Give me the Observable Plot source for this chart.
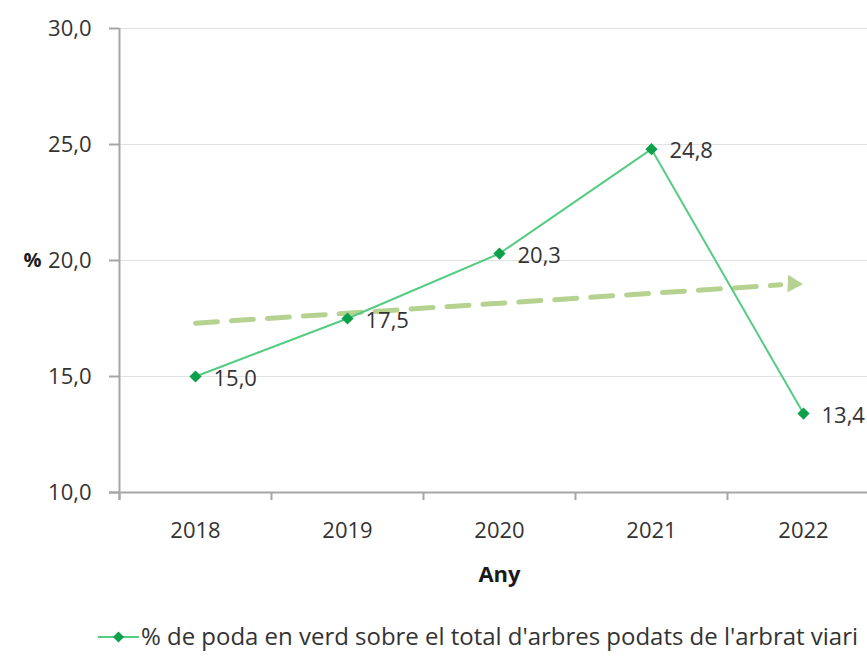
<!DOCTYPE html>
<html><head><meta charset="utf-8">
<script src="https://cdn.jsdelivr.net/npm/d3@7"></script>
<script src="https://cdn.jsdelivr.net/npm/@observablehq/plot@0.6"></script>
<style>
body{margin:0;background:#fff;font-family:"Open Sans",sans-serif;}
#legend{position:relative;height:57px;color:#333;}
</style></head>
<body><div id="chart"></div><div id="legend"></div>
<script>
const years = [2018, 2019, 2020, 2021, 2022];
const values = [15.0, 17.5, 20.3, 24.8, 13.4];
const trendYears = [2018, 2021.85];
const trendValues = [17.3, 18.95];
const arrowYear = [2021.93];
const arrowValue = [19.0];
const yTicks = [10, 15, 20, 25, 30];
const legendLabel = "% de poda en verd sobre el total d'arbres podats de l'arbrat viari";
const xLabel = "Any";
const yLabel = "%";

const data = years.map((y, i) => ({year: y, value: values[i]}));
const trend = trendYears.map((y, i) => ({year: y, value: trendValues[i]}));
const arrow = arrowYear.map((y, i) => ({year: y, value: arrowValue[i]}));
const fmt = v => v.toFixed(1).replace(".", ",");
const bounds = [2017.5, 2018.5, 2019.5, 2020.5, 2021.5, 2022.5];

const lineColor = "#55cc82", dotColor = "#0ea04a", trendColor = "#b6d291", axisColor = "#a6a6a6", textColor = "#333";
const fs = 22;

const chart = Plot.plot({
  width: 867, height: 600,
  marginLeft: 119, marginRight: -12, marginTop: 28, marginBottom: 108,
  style: {fontFamily: "'Open Sans', sans-serif", fontSize: fs + "px", color: textColor, background: "#fff"},
  x: {type: "linear", domain: [2017.5, 2022.5]},
  y: {domain: [10, 30]},
  marks: [
    Plot.ruleY(yTicks.filter(d => d > 10), {stroke: "#e2e2e2", strokeWidth: 1.2}),
    Plot.axisY(yTicks, {tickSize: 10, tickPadding: 18, tickFormat: fmt, stroke: axisColor, strokeWidth: 2, fill: textColor, fontSize: fs, label: null}),
    Plot.axisX(years, {tickSize: 0, tickPadding: 30, tickFormat: d => String(d), fill: textColor, fontSize: fs, label: null}),
    Plot.axisX(bounds, {tickSize: 8, tickFormat: () => "", stroke: axisColor, strokeWidth: 2, label: null}),
    Plot.ruleX([2017.5], {stroke: axisColor, strokeWidth: 2, insetBottom: -8}),
    Plot.ruleY([10], {stroke: axisColor, strokeWidth: 2, insetLeft: -10}),
    Plot.line(trend, {x: "year", y: "value", stroke: trendColor, strokeWidth: 5, strokeDasharray: "22,14"}),
    Plot.dot(arrow, {x: "year", y: "value", symbol: "triangle", rotate: 93, r: 6.5, fill: trendColor, stroke: "none"}),
    Plot.line(data, {x: "year", y: "value", stroke: lineColor, strokeWidth: 2}),
    Plot.dot(data, {x: "year", y: "value", symbol: "diamond2", r: 5.5, fill: dotColor, stroke: "none"}),
    Plot.text(data, {x: "year", y: "value", text: d => fmt(d.value), dx: 18, dy: 2, textAnchor: "start", fill: textColor, fontSize: fs}),
    Plot.text([xLabel], {frameAnchor: "bottom", dy: 89, fontWeight: "bold", fontSize: fs, fill: "#1a1a1a"}),
    Plot.text([yLabel], {frameAnchor: "left", y: [20], dx: -96, fontWeight: "bold", fontSize: fs - 2, fill: "#1a1a1a"})
  ]
});
document.getElementById("chart").appendChild(chart);

const lg = document.getElementById("legend");
lg.innerHTML = `<svg width="867" height="57" style="position:absolute;left:0;top:0">
<line x1="98" y1="37" x2="139" y2="37" stroke="${lineColor}" stroke-width="2"/>
<path d="M118.5,31.5 L124,37 L118.5,42.5 L113,37 Z" fill="${dotColor}"/>
<text x="141" y="45" font-size="23" fill="${textColor}" font-family="'Open Sans',sans-serif" textLength="717" lengthAdjust="spacingAndGlyphs">${legendLabel}</text></svg>`;
</script></body></html>
